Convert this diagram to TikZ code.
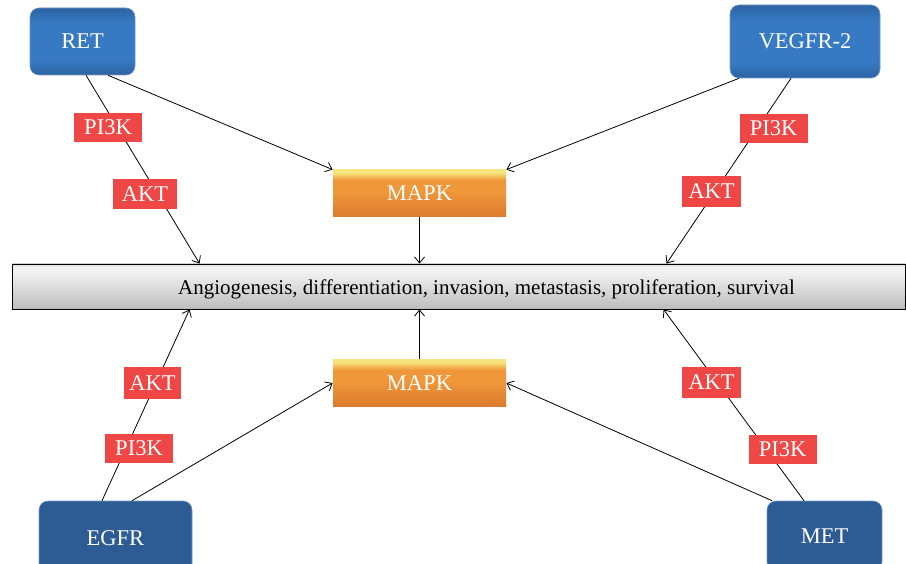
\documentclass[tikz,border=0pt]{standalone}
\usepackage{fontspec}
\setmainfont{Liberation Serif}
\usetikzlibrary{arrows.meta}

\definecolor{rtkblue}{HTML}{377AC3}
\definecolor{rtkdark}{HTML}{2D62A3}
\definecolor{rtkflat}{HTML}{2D5B94}
\definecolor{rtkline}{HTML}{7098CB}
\definecolor{labred}{HTML}{EF4746}
\definecolor{mapktop}{HTML}{F6E47C}
\definecolor{mapkmid}{HTML}{F0973A}
\definecolor{mapkbot}{HTML}{DC7A2D}
\definecolor{bartop}{HTML}{D9D9D9}
\definecolor{barhi}{HTML}{F1F1F1}
\definecolor{barbot}{HTML}{BDBDBD}

\pgfdeclareverticalshading{mapkshade}{100bp}{color(0bp)=(mapkbot); color(25bp)=(mapkbot); color(52bp)=(mapkmid); color(64bp)=(mapkmid); color(72bp)=(mapktop); color(100bp)=(mapktop)}
\pgfdeclareverticalshading{barshade}{100bp}{color(0bp)=(barbot); color(25bp)=(barbot); color(66bp)=(barhi); color(72bp)=(barhi); color(75bp)=(bartop); color(100bp)=(bartop)}
\pgfdeclareverticalshading{rtkshade}{100bp}{color(0bp)=(rtkdark); color(25bp)=(rtkdark); color(36bp)=(rtkblue); color(64bp)=(rtkblue); color(75bp)=(rtkdark); color(100bp)=(rtkdark)}

\begin{document}
\begin{tikzpicture}[x=1pt,y=-1pt,->,>={Straight Barb[length=6pt,width=10pt]},line width=0.8pt,
    rtk node/.style={rectangle,rounded corners=9pt,draw=rtkline,line width=0.6pt,text=white,inner sep=0pt,font=\fontsize{22.5}{22.5}\selectfont},
    mapk node/.style={rectangle,shading=mapkshade,minimum width=173,minimum height=47,inner sep=0pt,text=white,font=\fontsize{22.5}{22.5}\selectfont},
    lab node/.style={rectangle,fill=labred,minimum width=68,minimum height=29,inner sep=0pt,text=white,font=\fontsize{22.5}{22.5}\selectfont}]

            \useasboundingbox (0,0) rectangle (906,564);

            \node[draw, shading=barshade, line width=0.9pt, minimum width=893, minimum height=45, inner sep=0pt] (bar) at (458.5,286.5) {};
            \node[font=\fontsize{21}{21}\selectfont] (out) at (486.5,289) {Angiogenesis, differentiation, invasion, metastasis, proliferation, survival};

            \node[rtk node, shading=rtkshade, minimum width=105, minimum height=67] (ret) at (82.5,41.5) {RET};
            \node[rtk node, shading=rtkshade, minimum width=150, minimum height=73] (vegfr) at (805,41.5) {VEGFR-2};
            \node[rtk node, fill=rtkflat, minimum width=153, minimum height=74] (egfr) at (115.5,538) {EGFR};
            \node[rtk node, fill=rtkflat, minimum width=115, minimum height=70] (met) at (824.5,536) {MET};

            \node[mapk node] (mapk1) at (419.5,193.5) {MAPK};
            \node[mapk node] (mapk2) at (419.5,383) {MAPK};

            \path
                ([xshift=3.5]ret.south) edge ([xshift=188]bar.north west)
                ([xshift=25.5]ret.south) edge (mapk1.north west)

                ([xshift=-66]vegfr.south) edge (mapk1.north east)
                ([xshift=-14]vegfr.south) edge ([xshift=655]bar.north west)

                (mapk1.south) edge (mapk1.south |- bar.north)
                (mapk2.north) edge (mapk2.north |- bar.south)

                ([xshift=-13.5]egfr.north) edge ([xshift=178]bar.south west)
                ([xshift=16.5]egfr.north) edge (mapk2.west)

                ([xshift=-20.5]met.north) edge ([xshift=652]bar.south west)
                ([xshift=-52.5]met.north) edge (mapk2.east)
                ;

            \node[lab node] (p1) at (108,127.5) {PI3K};
            \node[lab node, minimum width=64, minimum height=30] (a1) at (145,194) {AKT};
            \node[lab node] (p2) at (773.5,128.5) {PI3K};
            \node[lab node, minimum width=59, minimum height=31] (a2) at (711.5,191.5) {AKT};
            \node[lab node] (p3) at (139,448.5) {PI3K};
            \node[lab node, minimum width=57, minimum height=31] (a3) at (152.5,383) {AKT};
            \node[lab node] (p4) at (782.5,449.5) {PI3K};
            \node[lab node, minimum width=59, minimum height=31] (a4) at (711.5,382.5) {AKT};
\end{tikzpicture}
\end{document}
